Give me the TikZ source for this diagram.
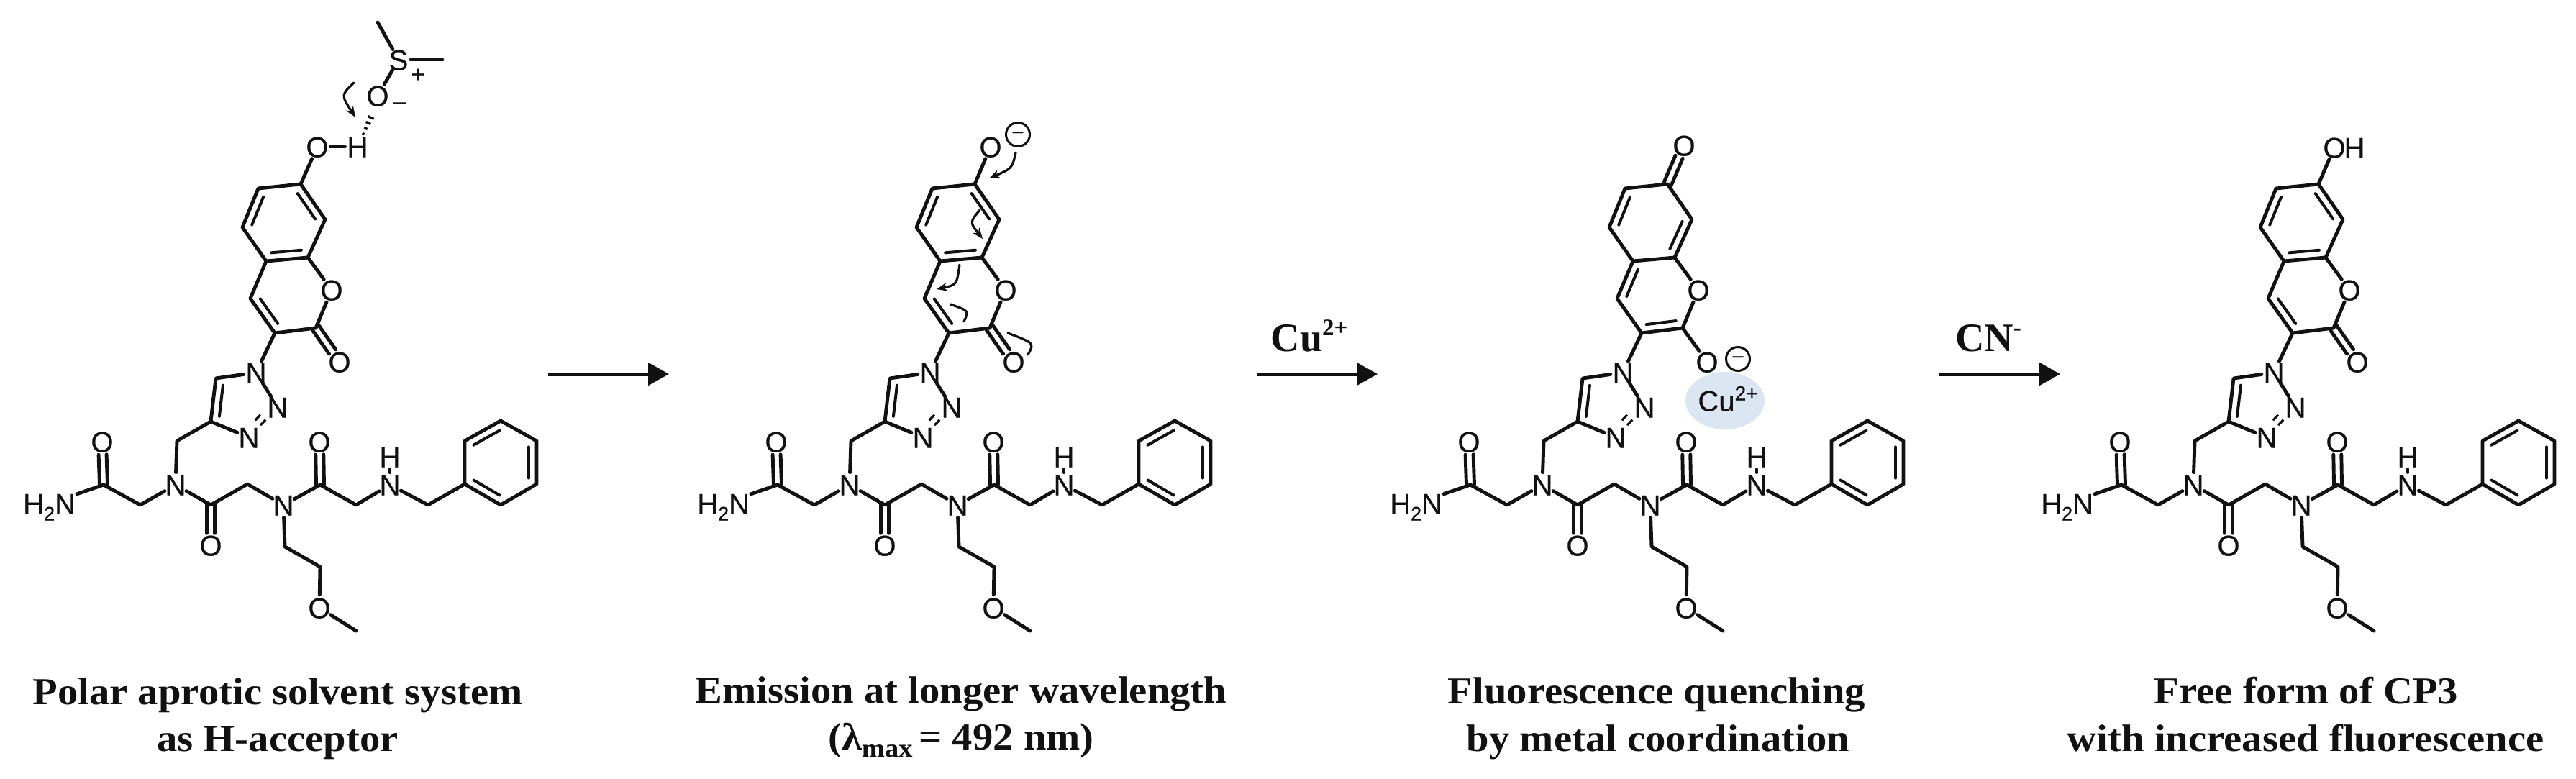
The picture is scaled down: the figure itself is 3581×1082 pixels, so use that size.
\documentclass[tikz,border=0pt]{standalone}
\usepackage{fontspec}
\setmainfont{Liberation Serif}
\setsansfont{Liberation Sans}
\newfontfamily\capfont[FakeStretch=1.07]{Liberation Serif}
\newfontfamily\atomfont[FakeBold=0.5]{Liberation Sans}
\usetikzlibrary{arrows.meta,calc}
\definecolor{cuhalo}{HTML}{DCE6F2}
\definecolor{ink}{HTML}{111111}
\tikzset{
  x=1pt,y=-1pt,
  bondline/.style={line width=4.9pt,line cap=round,line join=round,draw=ink},
  innerline/.style={line width=4pt,line cap=round,draw=ink},
  atom/.style={circle,inner sep=0pt,outer sep=-3pt,text=ink,text height=29pt,text depth=0pt,
    font=\atomfont\fontsize{40}{44}\selectfont},
  amine/.style={rectangle,inner sep=2pt,outer sep=0pt,text=ink,text height=29pt,text depth=0pt,
    font=\atomfont\fontsize{40}{44}\selectfont},
  chargemark/.style={inner sep=0pt,text=ink,font=\atomfont\fontsize{32}{34}\selectfont},
  minuscircle/.style={circle,draw=ink,line width=3pt,minimum size=33pt,inner sep=0pt,text=ink,
    font=\atomfont\fontsize{26}{26}\selectfont},
  captiontext/.style={anchor=base,inner sep=0pt,text=ink,font=\capfont\bfseries\fontsize{53}{60}\selectfont},
  reagent/.style={anchor=base,inner sep=0pt,text=ink,font=\fontsize{56}{60}\selectfont\bfseries},
  mainarrow/.style={line width=5pt,draw=ink,-{Triangle[length=29pt,width=31pt]}},
  pusharrow/.style={line width=3.2pt,draw=ink,line cap=round,-{Stealth[length=15pt,width=12pt]}},
}
% inner line of a ring double bond: left of #1->#2 as seen
\newcommand{\innerbond}[3]{\draw[innerline] ($(#1)!.14!(#2)!#3!90:(#2)$) -- ($(#1)!.86!(#2)!#3!90:(#2)$);}
% exocyclic C=O, both lines beside the axis
\newcommand{\carbonyl}[2]{%
  \draw[bondline] ($(#1)!5.5pt!90:(#2)$) -- ($(#1)!.70!(#2)!5.5pt!90:(#2)$);
  \draw[bondline] ($(#1)!5.5pt!-90:(#2)$) -- ($(#1)!.70!(#2)!5.5pt!-90:(#2)$);}
% skeleton common to all four molecules: prefix, x offset
\newcommand{\molskeleton}[2]{%
\begin{scope}[shift={(#2,0)}]
  \coordinate (#1a) at (418,256);
  \coordinate (#1b) at (359,262);
  \coordinate (#1c) at (337,316);
  \coordinate (#1d) at (370,363);
  \coordinate (#1e) at (428,358);
  \coordinate (#1f) at (452,305);
  \coordinate (#1ctwo) at (439,456);
  \coordinate (#1cthree) at (382,463);
  \coordinate (#1cfour) at (348,415);
  \node[atom] (#1oring) at (461,403) {O};
  \node[atom] (#1nA) at (356,518) {N};
  \node[atom] (#1nB) at (386,566) {N};
  \node[atom] (#1nC) at (346,608) {N};
  \coordinate (#1tH) at (300,526);
  \coordinate (#1tC) at (293,586);
  \coordinate (#1ma) at (246,613);
  \node[atom] (#1nD) at (244,674) {N};
  \coordinate (#1mb) at (195,702);
  \coordinate (#1ca) at (144,674);
  \node[atom] (#1oa) at (142,614) {O};
  \node[amine,anchor=east] (#1nh) at (107,700) {H\raisebox{-9pt}{\fontsize{27}{27}\selectfont 2}N};
  \coordinate (#1cb) at (293,702);
  \node[atom] (#1ob) at (293,758) {O};
  \coordinate (#1mc) at (344,673);
  \node[atom] (#1nE) at (394,702) {N};
  \coordinate (#1cc) at (445,674);
  \node[atom] (#1oc) at (444,614) {O};
  \coordinate (#1md) at (495,702);
  \node[atom] (#1nF) at (542,674) {N};
  \node[atom] (#1hF) at (542,635) {H};
  \coordinate (#1me) at (595,702);
  \coordinate (#1pa) at (646,673);
  \coordinate (#1pb) at (646,613);
  \coordinate (#1pc) at (696,585);
  \coordinate (#1pd) at (746,613);
  \coordinate (#1pe) at (746,673);
  \coordinate (#1pf) at (696,702);
  \coordinate (#1ea) at (396,760);
  \coordinate (#1eb) at (445,788);
  \node[atom] (#1oe) at (444,845) {O};
  \coordinate (#1ec) at (495,877);
\end{scope}
\draw[bondline] (#1a) -- (#1b) -- (#1c) -- (#1d) -- (#1e) -- (#1f) -- (#1a);
\draw[bondline] (#1e) -- (#1oring) -- (#1ctwo) -- (#1cthree) -- (#1cfour) -- (#1d);
\draw[bondline] (#1cthree) -- (#1nA) -- (#1tH) -- (#1tC) -- (#1nC);
\draw[bondline] (#1nA) -- (#1nB);
\draw[line width=3.2pt,draw=ink] ($(#1nB)!.42!(#1nC)$) -- ($(#1nB)!.60!(#1nC)$);
\draw[line width=3.2pt,draw=ink] ($(#1nB)!.42!(#1nC)!10pt!-90:(#1nC)$) -- ($(#1nB)!.60!(#1nC)!10pt!-90:(#1nC)$);
\innerbond{#1tH}{#1tC}{11pt}
\draw[bondline] (#1tC) -- (#1ma) -- (#1nD) -- (#1mb) -- (#1ca) -- (#1nh);
\carbonyl{#1ca}{#1oa}
\draw[bondline] (#1nD) -- (#1cb) -- (#1mc) -- (#1nE) -- (#1cc) -- (#1md) -- (#1nF) -- (#1me) -- (#1pa);
\draw[bondline] (#1nF) -- (#1hF);
\carbonyl{#1cb}{#1ob}
\carbonyl{#1cc}{#1oc}
\draw[bondline] (#1pa) -- (#1pb) -- (#1pc) -- (#1pd) -- (#1pe) -- (#1pf) -- cycle;
\innerbond{#1pb}{#1pc}{-11pt}
\innerbond{#1pd}{#1pe}{-11pt}
\innerbond{#1pf}{#1pa}{-11pt}
\draw[bondline] (#1nE) -- (#1ea) -- (#1eb) -- (#1oe) -- (#1ec);
}
% ring pattern of the phenol and phenolate forms
\newcommand{\phenolbonds}[1]{%
  \innerbond{#1b}{#1c}{11pt}
  \innerbond{#1a}{#1f}{-11pt}
  \innerbond{#1d}{#1e}{11pt}
  \innerbond{#1cfour}{#1cthree}{11pt}
  \carbonyl{#1ctwo}{#1oexo}
}
\begin{document}
\begin{tikzpicture}
\useasboundingbox (0,0) rectangle (3581,1082);
\fill[white] (0,0) rectangle (3581,1082);

% ---------- molecule 1
\molskeleton{p}{0}
\node[atom] (poexo) at (472,503) {O};
\phenolbonds{p}
\node[atom] (poh) at (441,204) {O};
\node[atom] (phh) at (497,204) {H};
\node[atom] (ps) at (554,83) {S};
\node[atom] (pod) at (525,133) {O};
\coordinate (pmeA) at (525,31);
\coordinate (pmeB) at (615,83);
\draw[bondline] (pa) -- (poh);
\draw[bondline] (poh) -- (phh);
\draw[bondline] (ps) -- (pmeA);
\draw[bondline] (ps) -- (pmeB);
\draw[bondline] (ps) -- (pod);
\node[chargemark] (pplus) at (581,105) {+};
\node[chargemark] (pminus) at (556,147) {–};
\coordinate (phs) at (505,186);
\coordinate (phe) at (519,156);
\foreach \t/\w in {0/1.5,.25/2.5,.5/3.5,.75/4.5,1/5.5}{
  \draw[line width=3.4pt,draw=ink] ($(phs)!\t!(phe)!\w pt!90:(phe)$) -- ($(phs)!\t!(phe)!\w pt!-90:(phe)$);
}
\coordinate (parcS) at (492,115);
\coordinate (parcE) at (494,163);
\draw[pusharrow] (parcS) .. controls (474,132) .. (parcE);

% ---------- arrow 1
\coordinate (aAs) at (762,520);
\coordinate (aAe) at (930,520);
\draw[mainarrow] (aAs) -- (aAe);

% ---------- molecule 2
\molskeleton{q}{937}
\node[atom] (qoexo) at (1409,503) {O};
\phenolbonds{q}
\node[atom] (qoh) at (1377,204) {O};
\draw[bondline] (qa) -- (qoh);
\node[minuscircle] (qminus) at (1415,187) {–};
\coordinate (qarcAs) at (1412,212);
\coordinate (qarcAe) at (1375,248);
\draw[pusharrow] (qarcAs) .. controls (1407,234) .. (qarcAe);
\coordinate (qarcBs) at (1362,292);
\coordinate (qarcBe) at (1366,332);
\draw[pusharrow] (qarcBs) .. controls (1348,309) .. (qarcBe);
\coordinate (qarcCs) at (1334,368);
\coordinate (qarcCe) at (1302,402);
\draw[pusharrow] (qarcCs) .. controls (1330,396) .. (qarcCe);
\coordinate (qarcDs) at (1321,423);
\coordinate (qarcDe) at (1340,447);
\draw[line width=3.2pt,draw=ink,line cap=round] (qarcDs) .. controls (1347,432) .. (qarcDe);
\coordinate (qarcEs) at (1401,463);
\coordinate (qarcEe) at (1429,493);
\draw[line width=3.2pt,draw=ink,line cap=round] (qarcEs) .. controls (1438,477) .. (qarcEe);

% ---------- arrow 2
\coordinate (aBs) at (1748,520);
\coordinate (aBe) at (1915,520);
\draw[mainarrow] (aBs) -- (aBe);
\node[reagent] (lblCu) at (1820,488) {Cu\raisebox{22pt}{\fontsize{33}{33}\selectfont 2+}};

% ---------- molecule 3
\fill[cuhalo] (2398,557) ellipse [x radius=55,y radius=40];
\molskeleton{r}{1900}
\node[atom] (roexo) at (2341,202) {O};
\node[atom] (roneg) at (2373,503) {O};
\draw[bondline] (rctwo) -- (roneg);
\carbonyl{ra}{roexo}
\innerbond{rb}{rc}{11pt}
\innerbond{rf}{re}{-11pt}
\innerbond{rd}{rcfour}{11pt}
\innerbond{rcthree}{rctwo}{11pt}
\node[minuscircle] (rminus) at (2416,499) {–};
\node[amine,anchor=center,text height=29pt] (rcu) at (2402,557) {Cu\raisebox{15pt}{\fontsize{28}{28}\selectfont 2+}};

% ---------- arrow 3
\coordinate (aCs) at (2696,520);
\coordinate (aCe) at (2864,520);
\draw[mainarrow] (aCs) -- (aCe);
\node[reagent] (lblCN) at (2764,488) {CN\raisebox{22pt}{\fontsize{33}{33}\selectfont -}};

% ---------- molecule 4
\molskeleton{s}{2805}
\node[atom] (soexo) at (3277,503) {O};
\phenolbonds{s}
\node[atom] (soh) at (3245,205) {O};
\node[atom] (shh) at (3273,205) {H};
\draw[bondline] (sa) -- (soh);

% ---------- captions
\node[captiontext] (capAa) at (386,979) {Polar aprotic solvent system};
\node[captiontext] (capAb) at (386,1044) {as H-acceptor};
\node[captiontext] (capBa) at (1336,977) {Emission at longer wavelength};
\node[captiontext] (capBb) at (1336,1042) {(λ\raisebox{-10pt}{\fontsize{36}{36}\selectfont max}\,= 492 nm)};
\node[captiontext] (capCa) at (2303,978) {Fluorescence quenching};
\node[captiontext] (capCb) at (2305,1044) {by metal coordination};
\node[captiontext] (capDa) at (3206,978) {Free form of CP3};
\node[captiontext] (capDb) at (3205,1044) {with increased fluorescence};
\end{tikzpicture}
\end{document}
